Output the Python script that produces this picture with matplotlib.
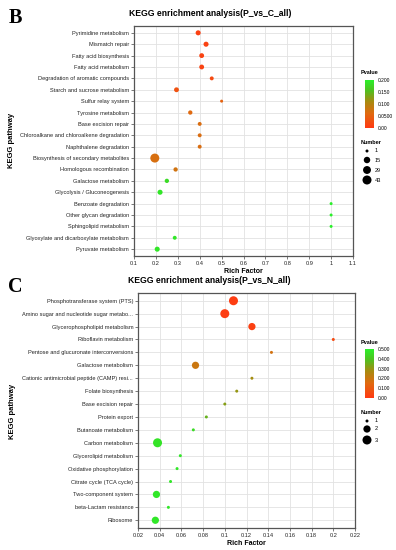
import matplotlib.pyplot as plt
import numpy as np
from matplotlib.colors import LinearSegmentedColormap, Normalize
import matplotlib.cm as cm

plt.rcParams['font.family'] = ['Liberation Sans', 'DejaVu Sans']

# panel B data (top to bottom)
b_paths = ["Pyrimidine metabolism", "Mismatch repair", "Fatty acid biosynthesis",
           "Fatty acid metabolism", "Degradation of aromatic compounds",
           "Starch and sucrose metabolism", "Sulfur relay system", "Tyrosine metabolism",
           "Base excision repair", "Chloroalkane and chloroalkene degradation",
           "Naphthalene degradation", "Biosynthesis of secondary metabolites",
           "Homologous recombination", "Galactose metabolism",
           "Glycolysis / Gluconeogenesis", "Benzoate degradation",
           "Other glycan degradation", "Sphingolipid metabolism",
           "Glyoxylate and dicarboxylate metabolism", "Pyruvate metabolism"]
b_rich = [0.393, 0.429, 0.409, 0.409, 0.455, 0.294, 0.5, 0.357, 0.4, 0.4, 0.4,
          0.195, 0.29, 0.25, 0.219, 1.0, 1.0, 1.0, 0.286, 0.206]
b_num = [6, 6, 5, 5, 2, 5, 1, 3, 2, 2, 2, 43, 3, 3, 6, 1, 1, 1, 2, 6]
b_p = [0.008, 0.01, 0.012, 0.012, 0.02, 0.03, 0.05, 0.06, 0.065, 0.065, 0.065,
       0.068, 0.075, 0.18, 0.19, 0.2, 0.2, 0.2, 0.19, 0.19]

# panel C data (top to bottom)
c_paths = ["Phosphotransferase system (PTS)", "Amino sugar and nucleotide sugar metabo...",
           "Glycerophospholipid metabolism", "Riboflavin metabolism",
           "Pentose and glucuronate interconversions", "Galactose metabolism",
           "Cationic antimicrobial peptide (CAMP) resi...", "Folate biosynthesis",
           "Base excision repair", "Protein export", "Butanoate metabolism",
           "Carbon metabolism", "Glycerolipid metabolism", "Oxidative phosphorylation",
           "Citrate cycle (TCA cycle)", "Two-component system", "beta-Lactam resistance",
           "Ribosome"]
c_rich = [0.108, 0.1, 0.125, 0.2, 0.143, 0.073, 0.125, 0.111, 0.1, 0.083, 0.071,
          0.038, 0.059, 0.056, 0.05, 0.037, 0.048, 0.036]
c_num = [3, 3, 2, 1, 1, 2, 1, 1, 1, 1, 1, 3, 1, 1, 1, 2, 1, 2]
c_p = [0.01, 0.01, 0.02, 0.05, 0.18, 0.2, 0.28, 0.3, 0.32, 0.36, 0.45,
       0.47, 0.48, 0.48, 0.48, 0.48, 0.48, 0.48]

cmap = LinearSegmentedColormap.from_list("pv", [(0, "#FF3A12"), (0.3, "#E06A10"),
                                                (0.55, "#A88A10"), (0.78, "#50C020"),
                                                (1, "#2AF02A")])

W, H = 396, 550
fig = plt.figure(figsize=(W / 100, H / 100), dpi=100)


def box(l, t, r, b):
    return [l / W, 1 - b / H, (r - l) / W, (b - t) / H]


def dsize(n, nmax):
    d = 3 + 6 * np.sqrt((np.array(n) - 1) / (nmax - 1))
    return (d * 0.72) ** 2


def panel(rect, paths, rich, num, p, pmax, nmax, xlim, xticks, xtl, title, tx):
    ax = fig.add_axes(rect)
    n = len(paths)
    y = np.arange(n, 0, -1)
    ax.scatter(rich, y, s=dsize(num, nmax), c=p, cmap=cmap, vmin=0, vmax=pmax,
               edgecolors='none', zorder=3)
    ax.set_ylim(0.4, n + 0.6)
    ax.set_xlim(*xlim)
    ax.set_yticks(y)
    ax.set_yticklabels(paths, fontsize=4.1, color='#222222')
    ax.set_xticks(xticks)
    ax.set_xticklabels(xtl, fontsize=4.1, color='#222222')
    ax.grid(True, color='#e2e2e2', lw=0.6, zorder=0)
    ax.set_axisbelow(True)
    for s in ax.spines.values():
        s.set_color('#555555')
        s.set_linewidth(0.9)
    ax.tick_params(length=2, width=0.5, color='#444444', pad=1.5)
    ax.set_xlabel("Rich Factor", fontsize=5, fontweight='bold', labelpad=1.5)
    ax.set_title(title, fontsize=6.2, fontweight='bold', pad=7, x=tx)
    return ax


axb = panel(box(134, 26, 353, 256), b_paths, b_rich, b_num, b_p, 0.2, 43,
            (0.1, 1.1), np.arange(0.1, 1.11, 0.1),
            ["0.1", "0.2", "0.3", "0.4", "0.5", "0.6", "0.7", "0.8", "0.9", "1", "1.1"],
            "KEGG enrichment analysis(P_vs_C_all)", 0.347)
axc = panel(box(138, 293, 355, 528), c_paths, c_rich, c_num, c_p, 0.5, 3,
            (0.02, 0.22), np.arange(0.02, 0.221, 0.02),
            ["0.02", "0.04", "0.06", "0.08", "0.1", "0.12", "0.14", "0.16", "0.18", "0.2", "0.22"],
            "KEGG enrichment analysis(P_vs_N_all)", 0.327)

fig.text(12 / W, 1 - 140 / H, "KEGG pathway", fontsize=5.5, fontweight='bold',
         rotation=90, ha='center', va='center')
fig.text(13 / W, 1 - 411 / H, "KEGG pathway", fontsize=5.5, fontweight='bold',
         rotation=90, ha='center', va='center')

fig.text(9 / W, 1 - 18 / H, "B", fontsize=14.5, fontweight='bold', family='Liberation Serif',
         va='center')
fig.text(8 / W, 1 - 287 / H, "C", fontsize=14.5, fontweight='bold', family='Liberation Serif',
         va='center')


def legend(cb_top, cb_bot, pmax, ticks, tl, ntitle_y, sizes, nmax, size_y):
    fig.text(361 / W, 1 - (cb_top - 7) / H, "Pvalue", fontsize=4, fontweight='bold',
             va='center')
    cax = fig.add_axes(box(365, cb_top, 374, cb_bot))
    cb = fig.colorbar(cm.ScalarMappable(norm=Normalize(0, pmax), cmap=cmap), cax=cax)
    cb.set_ticks(ticks)
    cb.set_ticklabels(tl)
    cb.outline.set_visible(False)
    cax.tick_params(labelsize=3.5, length=1.5, width=0.4, color='white', pad=1)
    fig.text(361 / W, 1 - ntitle_y / H, "Number", fontsize=4, fontweight='bold',
             va='center')
    sax = fig.add_axes([0, 0, 1, 1])
    sax.set_xlim(0, W)
    sax.set_ylim(H, 0)
    sax.axis('off')
    sax.scatter([367] * len(sizes), size_y, s=dsize(sizes, nmax), c='black',
                edgecolors='none')
    for v, yy in zip(sizes, size_y):
        sax.text(375, yy, str(v), fontsize=4, va='center')


legend(80, 128, 0.2, [0, 0.05, 0.1, 0.15, 0.2], ["0.00", "0.0500", "0.100", "0.150", "0.200"],
       143, [1, 15, 29, 43], 43, [151, 160, 170, 180])
legend(349, 398, 0.5, [0, 0.1, 0.2, 0.3, 0.4, 0.5],
       ["0.00", "0.100", "0.200", "0.300", "0.400", "0.500"],
       413, [1, 2, 3], 3, [421, 429, 440])

fig.savefig("out.png", dpi=100)
